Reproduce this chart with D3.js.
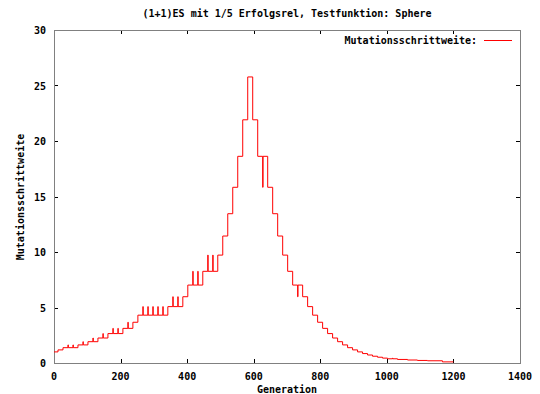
<!DOCTYPE html>
<html>
<head>
<meta charset="utf-8">
<script src="https://cdn.jsdelivr.net/npm/d3@7"></script>
<style>
  body { margin: 0; background: #fff; }
  text { font-family: "DejaVu Sans Mono", monospace; font-weight: bold; font-size: 10px; fill: #000; }
</style>
</head>
<body>
<div id="chart"></div>
<script>
// step levels of the mutation step size (generation where a level starts)
var changeGen = [0, 12, 27, 72, 102, 132, 162, 207, 237, 252,
                 342, 387, 402, 447, 492, 507, 522, 537, 552, 567,
                 582, 597, 612, 642, 657, 672, 687, 702, 717, 747,
                 762, 777, 792, 807, 822, 837, 852, 867, 882, 897,
                 912, 927, 942, 957, 972, 987, 1002, 1032, 1062, 1092,
                 1122, 1167];
var changeVal = [1.00, 1.18, 1.38, 1.63, 1.92, 2.25, 2.65, 3.12, 3.67, 4.31,
                 5.08, 5.97, 7.02, 8.26, 9.72, 11.44, 13.45, 15.83, 18.62, 21.91,
                 25.77, 21.91, 18.62, 15.83, 13.45, 11.44, 9.72, 8.26, 7.02, 5.97,
                 5.08, 4.31, 3.67, 3.12, 2.65, 2.25, 1.92, 1.63, 1.38, 1.18,
                 1.00, 0.85, 0.72, 0.61, 0.52, 0.44, 0.38, 0.32, 0.27, 0.23,
                 0.20, 0.10];
var lastGen = 1200;

// short single-generation excursions
var spikeGen = [42, 57, 87, 117, 147, 177, 192, 222, 267, 282, 297, 312, 327,
                357, 372, 417, 432, 462, 477, 627, 732, 1017];
var spikeVal = [1.63, 1.63, 1.92, 2.25, 2.65, 3.12, 3.12, 3.67, 5.08, 5.08, 5.08, 5.08, 5.08,
                5.97, 5.97, 8.26, 8.26, 9.72, 9.72, 15.83, 5.97, 0.44];

var xTicks = [0, 200, 400, 600, 800, 1000, 1200, 1400];
var yTicks = [0, 5, 10, 15, 20, 25, 30];

var width = 540, height = 394;
var margin = {left: 54, right: 20, top: 30, bottom: 31};

var svg = d3.select("#chart").append("svg")
    .attr("width", width)
    .attr("height", height);

var x = d3.scaleLinear().domain([0, 1400]).range([margin.left, width - margin.right]);
var y = d3.scaleLinear().domain([0, 30]).range([height - margin.bottom, margin.top]);

function levelAt(g) {
  var v = changeVal[0];
  for (var i = 0; i < changeGen.length; i++) {
    if (changeGen[i] <= g) v = changeVal[i];
  }
  return v;
}

var pts = [];
changeGen.forEach(function (g, i) { pts.push({g: g, v: changeVal[i]}); });
spikeGen.forEach(function (g, i) {
  pts.push({g: g, v: spikeVal[i]});
  pts.push({g: g + 1, v: levelAt(g)});
});
pts.push({g: lastGen, v: changeVal[changeVal.length - 1]});
pts.sort(function (a, b) { return a.g - b.g; });

// ticks (inward, mirrored)
var tl = 4;
var ticks = svg.append("g").attr("stroke", "#000").attr("stroke-width", 1);
xTicks.forEach(function (t) {
  var px = Math.round(x(t)) + 0.5;
  ticks.append("line").attr("x1", px).attr("x2", px)
    .attr("y1", y(0)).attr("y2", y(0) - tl);
  ticks.append("line").attr("x1", px).attr("x2", px)
    .attr("y1", y(30)).attr("y2", y(30) + tl);
  svg.append("text").attr("x", x(t)).attr("y", y(0) + 17)
    .attr("text-anchor", "middle").text(t);
});
yTicks.forEach(function (t) {
  var py = Math.round(y(t)) + 0.5;
  ticks.append("line").attr("x1", x(0)).attr("x2", x(0) + tl)
    .attr("y1", py).attr("y2", py);
  ticks.append("line").attr("x1", x(1400)).attr("x2", x(1400) - tl)
    .attr("y1", py).attr("y2", py);
  svg.append("text").attr("x", x(0) - 8).attr("y", y(t) + 4)
    .attr("text-anchor", "end").text(t);
});

// border
svg.append("rect")
  .attr("x", x(0) + 0.5).attr("y", y(30) + 0.5)
  .attr("width", x(1400) - x(0)).attr("height", y(0) - y(30))
  .attr("fill", "none").attr("stroke", "#808080");

var line = d3.line()
  .x(function (d) { return x(d.g); })
  .y(function (d) { return y(d.v); })
  .curve(d3.curveStepAfter);

svg.append("path")
  .datum(pts)
  .attr("d", line)
  .attr("fill", "none")
  .attr("stroke", "#ff0000")
  .attr("stroke-width", 1);

// title, labels, legend
svg.append("text").attr("x", 287).attr("y", 17)
  .attr("text-anchor", "middle")
  .text("(1+1)ES mit 1/5 Erfolgsrel, Testfunktion: Sphere");
svg.append("text").attr("x", 287).attr("y", 393)
  .attr("text-anchor", "middle").text("Generation");
svg.append("text")
  .attr("transform", "translate(24,197) rotate(-90)")
  .attr("text-anchor", "middle").text("Mutationsschrittweite");
svg.append("text").attr("x", 477).attr("y", 44)
  .attr("text-anchor", "end").text("Mutationsschrittweite:");
svg.append("line").attr("x1", 484).attr("x2", 512)
  .attr("y1", 40.5).attr("y2", 40.5)
  .attr("stroke", "#ff0000").attr("stroke-width", 1);
</script>
</body>
</html>
